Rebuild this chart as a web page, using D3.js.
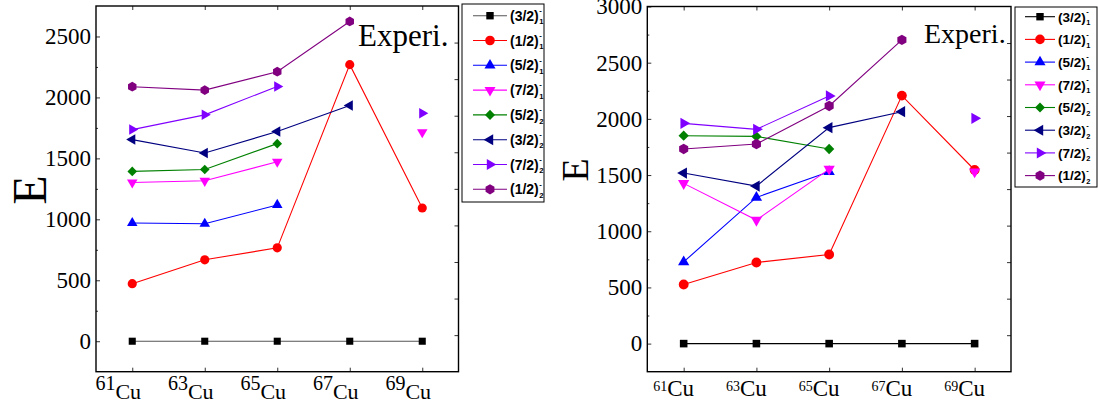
<!DOCTYPE html>
<html>
<head>
<meta charset="utf-8">
<script src="https://cdn.jsdelivr.net/npm/d3@7"></script>
<style>
  body { margin: 0; background: #fff; }
  text { font-family: "Liberation Serif", "Times New Roman", serif; }
</style>
</head>
<body>
<svg id="chart" width="1098" height="409"></svg>
<script>
// isotopes on the x axis (mass numbers)
const isotopes = ['61', '63', '65', '67', '69'];

// level names in the legends
const spins = ['(3/2)', '(1/2)', '(5/2)', '(7/2)', '(5/2)', '(3/2)', '(7/2)', '(1/2)'];
const spinIndex = ['1', '1', '1', '1', '2', '2', '2', '2'];

// y tick labels
const leftTicks = [0, 500, 1000, 1500, 2000, 2500];
const rightTicks = [0, 500, 1000, 1500, 2000, 2500, 3000];

// energies (keV), one row per level, one column per isotope, null = no point
const leftValues = [
  [0, 0, 0, 0, 0],
  [472, 668, 766, 2269, 1093],
  [970, 964, 1118, null, null],
  [1302, 1316, 1472, null, 1714],
  [1393, 1409, 1621, null, null],
  [1654, 1544, 1720, 1934, null],
  [1736, 1857, 2090, null, 1871],
  [2088, 2060, 2211, 2623, null]
];

const rightValues = [
  [0, 0, 0, 0, 0],
  [526, 722, 793, 2207, 1545],
  [727, 1301, 1530, null, null],
  [1426, 1099, 1553, null, 1530],
  [1850, 1844, 1732, null, null],
  [1518, 1402, 1922, 2064, null],
  [1960, 1907, 2204, null, 2005],
  [1732, 1776, 2115, 2703, null]
];

// styles
const colors = ['#000000', '#ff0000', '#0000ff', '#ff00ff', '#008000', '#000080', '#8000ff', '#800080'];
const shapes = ['square', 'circle', 'up', 'down', 'diamond', 'left', 'right', 'hexagon'];

const symbolHexagon = {
  draw(context, size) {
    const r = Math.sqrt((2 * size) / (3 * Math.sqrt(3)));
    for (let i = 0; i < 6; i++) {
      const a = (Math.PI / 3) * i + Math.PI / 6;
      if (i === 0) context.moveTo(r * Math.cos(a), r * Math.sin(a));
      else context.lineTo(r * Math.cos(a), r * Math.sin(a));
    }
    context.closePath();
  }
};

// path + rotation for each marker shape
function marker(shape, k) {
  const s = k || 1;
  switch (shape) {
    case 'square': return { d: d3.symbol(d3.symbolSquare, 50 * s)(), rot: 0 };
    case 'circle': return { d: d3.symbol(d3.symbolCircle, 66 * s)(), rot: 0 };
    case 'up': return { d: d3.symbol(d3.symbolTriangle, 48 * s)(), rot: 0 };
    case 'down': return { d: d3.symbol(d3.symbolTriangle, 48 * s)(), rot: 180 };
    case 'left': return { d: d3.symbol(d3.symbolTriangle, 48 * s)(), rot: -90 };
    case 'right': return { d: d3.symbol(d3.symbolTriangle, 48 * s)(), rot: 90 };
    case 'diamond': return { d: d3.symbol(d3.symbolSquare, 46 * s)(), rot: 45 };
    default: return { d: d3.symbol(symbolHexagon, 62 * s)(), rot: 0 };
  }
}

const svg = d3.select('#chart');
const serif = '"Liberation Serif", "Times New Roman", serif';
const sans = '"Liberation Sans", Arial, sans-serif';

function drawPanel(cfg) {
  const g = svg.append('g');
  const x = d3.scaleLinear().domain([-0.5, 4.5]).range([cfg.left, cfg.right]);
  const y = d3.scaleLinear().domain(cfg.yDomain).range([cfg.bottom, cfg.top]);

  // left axis, labels outside, ticks inside
  g.append('g')
    .attr('transform', `translate(${cfg.left},0)`)
    .call(d3.axisLeft(y).tickValues(cfg.ticks).tickSize(-4).tickPadding(5).tickFormat(d3.format('d')))
    .call((a) => a.select('.domain').remove())
    .call((a) => a.selectAll('text')
      .style('font-family', serif)
      .style('font-size', '23px')
      .attr('fill', '#000'));

  // minor ticks
  g.append('g')
    .attr('transform', `translate(${cfg.left},0)`)
    .call(d3.axisLeft(y).tickValues(cfg.ticks.map((t) => t + 250).filter((t) => t < cfg.yDomain[1]))
      .tickSize(-2).tickFormat(''))
    .call((a) => a.select('.domain').remove());

  // bottom and top ticks at each isotope
  g.append('g')
    .attr('transform', `translate(0,${cfg.bottom})`)
    .call(d3.axisBottom(x).tickValues(d3.range(isotopes.length)).tickSize(-4).tickFormat(''))
    .call((a) => a.select('.domain').remove());
  g.append('g')
    .attr('transform', `translate(0,${cfg.top})`)
    .call(d3.axisTop(x).tickValues(d3.range(isotopes.length)).tickSize(-4).tickFormat(''))
    .call((a) => a.select('.domain').remove());

  // opposite axis ticks
  const yOpp = d3.scaleLinear().domain([0, 10]).range([cfg.bottom, cfg.top]);
  g.append('g')
    .attr('transform', `translate(${cfg.right},0)`)
    .call(d3.axisRight(yOpp).tickValues(d3.range(1, 10)).tickSize(-4).tickFormat(''))
    .call((a) => a.select('.domain').remove());

  g.selectAll('.tick line').attr('stroke', '#333');

  // frame
  g.append('rect')
    .attr('x', cfg.left)
    .attr('y', cfg.top)
    .attr('width', cfg.right - cfg.left)
    .attr('height', cfg.bottom - cfg.top)
    .attr('fill', 'none')
    .attr('stroke', '#000')
    .attr('stroke-width', 1.4);

  // x labels: superscript mass number + Cu
  const xl = g.append('g');
  isotopes.forEach((iso, i) => {
    const t = xl.append('text')
      .attr('x', x(i) + cfg.labelShift)
      .attr('y', cfg.labelY)
      .attr('text-anchor', 'middle')
      .style('font-family', serif)
      .attr('fill', '#000');
    t.append('tspan').attr('font-size', cfg.supSize).attr('dy', -cfg.supRise).text(iso);
    t.append('tspan').attr('font-size', cfg.cuSize).attr('dy', cfg.supRise).text('Cu');
  });

  // y title, rotated
  g.append('text')
    .attr('transform', `translate(${cfg.titleX},${cfg.titleY}) rotate(-90)`)
    .attr('text-anchor', 'middle')
    .attr('dominant-baseline', 'central')
    .style('font-family', serif)
    .attr('font-size', cfg.titleSize)
    .text('E');

  // series
  const line = d3.line()
    .defined((d) => d != null)
    .x((d, i) => x(i))
    .y((d) => y(d));

  cfg.values.forEach((vals, si) => {
    const sg = g.append('g');
    sg.append('path')
      .datum(vals)
      .attr('d', line)
      .attr('fill', 'none')
      .attr('stroke', si === 0 ? cfg.firstLine : colors[si])
      .attr('stroke-width', 1.1);
    const m = marker(shapes[si], cfg.markScale);
    sg.selectAll('path.mark')
      .data(vals.map((v, i) => ({ v, i })).filter((d) => d.v != null))
      .join('path')
      .attr('class', 'mark')
      .attr('d', m.d)
      .attr('transform', (d) => `translate(${x(d.i)},${y(d.v)}) rotate(${m.rot})`)
      .attr('fill', colors[si]);
  });

  // panel note
  g.append('text')
    .attr('x', cfg.noteX)
    .attr('y', cfg.noteY)
    .style('font-family', serif)
    .attr('font-size', cfg.noteSize)
    .attr('fill', '#000')
    .text('Experi.');

  // legend
  const lg = g.append('g');
  const L = cfg.legend;
  lg.append('rect')
    .attr('x', L.x)
    .attr('y', L.y)
    .attr('width', L.w)
    .attr('height', L.h)
    .attr('fill', '#fff')
    .attr('stroke', '#000')
    .attr('stroke-width', 1);
  spins.forEach((s, si) => {
    const yy = L.y0 + si * L.step;
    lg.append('line')
      .attr('x1', L.lx1).attr('x2', L.lx2)
      .attr('y1', yy).attr('y2', yy)
      .attr('stroke', si === 0 ? cfg.firstLine : colors[si])
      .attr('stroke-width', 1.1);
    const m = marker(shapes[si], L.markScale);
    lg.append('path')
      .attr('d', m.d)
      .attr('transform', `translate(${(L.lx1 + L.lx2) / 2},${yy}) rotate(${m.rot})`)
      .attr('fill', colors[si]);
    const t = lg.append('text')
      .attr('x', L.tx)
      .attr('y', yy + L.fs * 0.36)
      .style('font-family', sans)
      .attr('font-weight', 'bold')
      .attr('font-size', L.fs)
      .attr('fill', '#000')
      .text(s);
    const w = t.node().getComputedTextLength();
    lg.append('text')
      .attr('x', L.tx + w + 0.5)
      .attr('y', yy - L.fs * 0.2)
      .style('font-family', sans)
      .attr('font-weight', 'bold')
      .attr('font-size', L.fs * 0.55)
      .text('-');
    lg.append('text')
      .attr('x', L.tx + w + 0.5)
      .attr('y', yy + L.fs * 0.62)
      .style('font-family', sans)
      .attr('font-weight', 'bold')
      .attr('font-size', L.fs * 0.55)
      .text(spinIndex[si]);
  });
}

drawPanel({
  left: 96, right: 458.5, top: 6, bottom: 371.7,
  yDomain: [-250, 2750], ticks: leftTicks, values: leftValues,
  firstLine: '#555', markScale: 1,
  labelShift: -14, labelY: 399, supSize: 20, cuSize: 22, supRise: 9.5,
  titleX: 29, titleY: 190, titleSize: 48,
  noteX: 358, noteY: 46, noteSize: 31,
  legend: { x: 462, y: 4, w: 82, h: 198, y0: 15.7, step: 24.8, lx1: 473, lx2: 507, tx: 510, fs: 14, markScale: 1.1 }
});

drawPanel({
  left: 647.3, right: 1011, top: 6.5, bottom: 371.7,
  yDomain: [-250, 3000], ticks: rightTicks, values: rightValues,
  firstLine: '#000', markScale: 1.15,
  labelShift: -10, labelY: 396, supSize: 14, cuSize: 23, supRise: 5.5,
  titleX: 575, titleY: 170, titleSize: 38,
  noteX: 924, noteY: 43, noteSize: 28,
  legend: { x: 1015, y: 7, w: 82, h: 180, y0: 16.7, step: 22.7, lx1: 1025, lx2: 1055, tx: 1058, fs: 13.5, markScale: 1.1 }
});
</script>
</body>
</html>
